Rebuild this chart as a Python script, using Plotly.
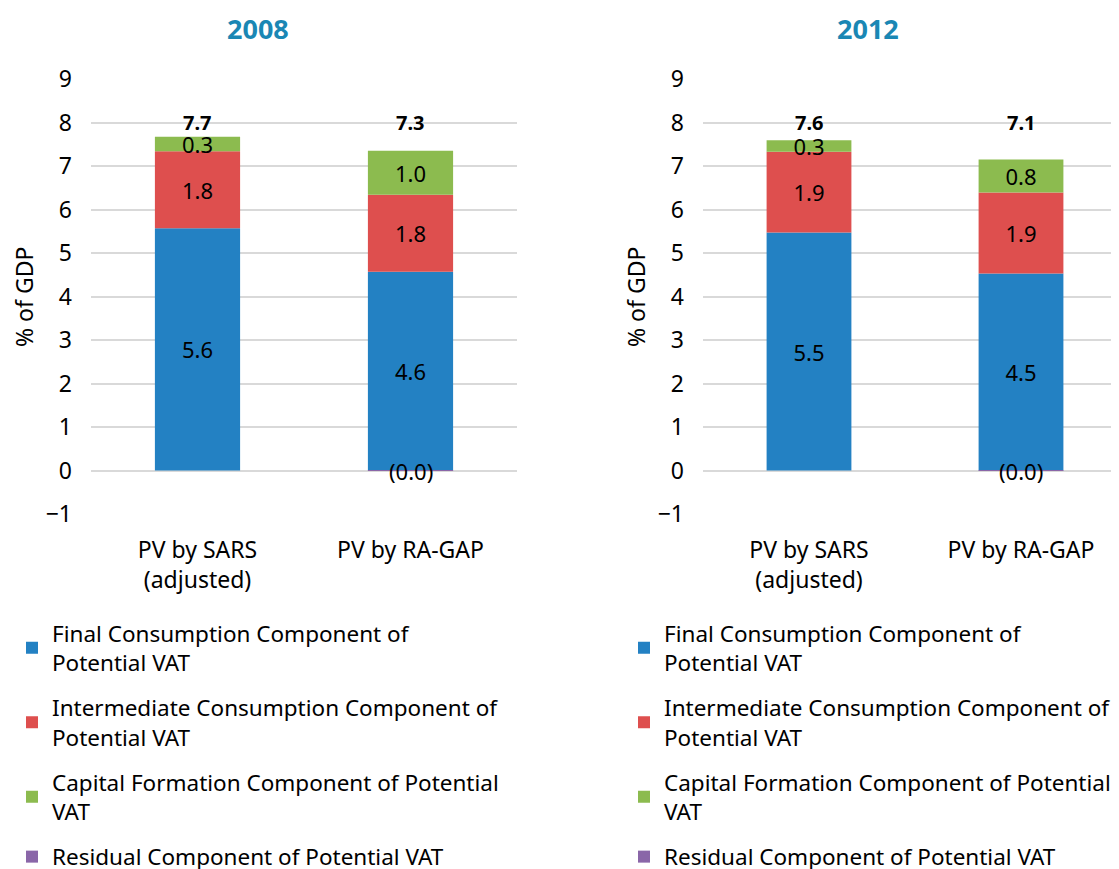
import plotly.graph_objects as go

# Veriler
categories = ["PV by SARS<br>(adjusted)", "PV by RA-GAP"]
years = ["2008", "2012"]

final_2008 = [5.57, 4.57]
inter_2008 = [1.77, 1.77]
capital_2008 = [0.33, 1.01]
resid_2008 = [0.0, -0.004]

final_2012 = [5.47, 4.53]
inter_2012 = [1.86, 1.86]
capital_2012 = [0.26, 0.76]
resid_2012 = [0.0, -0.004]

series_names = [
    "Final Consumption Component of<br>Potential VAT",
    "Intermediate Consumption Component of<br>Potential VAT",
    "Capital Formation Component of Potential<br>VAT",
    "Residual Component of Potential VAT",
]
colors = ["#2381C3", "#DE4F4E", "#8CBB4F", "#8A66A8"]

FONT = "Noto Sans"
W, H, OFF = 1119, 869, 8  # sayfa kenar boşluğu (body margin)


def px_x(p):
    return (p - OFF) / W


def px_y(p):
    return 1 - (p - OFF) / H


panels = [
    ([final_2008, inter_2008, capital_2008, resid_2008], "x", "y", "legend"),
    ([final_2012, inter_2012, capital_2012, resid_2012], "x2", "y2", "legend2"),
]

fig = go.Figure()
annotations = []

for p, (series, xa, ya, leg) in enumerate(panels):
    for i, vals in enumerate(series):
        is_resid = i == 3
        fig.add_trace(go.Bar(
            x=categories, y=vals, name=series_names[i],
            marker=dict(color=colors[i], line=dict(width=0)),
            text=None if is_resid else [f"{v:.1f}" for v in vals],
            textposition="inside", insidetextanchor="middle",
            constraintext="none", textangle=0,
            textfont=dict(color="black", size=22, family=FONT),
            xaxis=xa, yaxis=ya, legend=leg,
            legendgroup=f"g{p}{i}", hoverinfo="skip",
        ))
    # toplamlar
    totals = [sum(s[k] for s in series) for k in range(len(categories))]
    for k, cat in enumerate(categories):
        annotations.append(dict(
            x=cat, y=8, xref=xa, yref=ya, text=f"<b>{totals[k]:.1f}</b>",
            showarrow=False, yanchor="middle",
            font=dict(size=20, color="black", family=FONT),
        ))
        r = series[3][k]
        if r != 0:
            annotations.append(dict(
                x=cat, y=r, xref=xa, yref=ya,
                text=f"({abs(r):.1f})" if r < 0 else f"{r:.1f}",
                showarrow=False, yanchor="middle",
                font=dict(size=22, color="black", family=FONT),
            ))

# başlıklar ve eksen başlıkları
for txt, xp in zip(years, [258, 868]):
    annotations.append(dict(
        x=px_x(xp), y=px_y(29), xref="paper", yref="paper", text=f"<b>{txt}</b>",
        showarrow=False, xanchor="center", yanchor="middle",
        font=dict(size=27, color="#1A87B4", family=FONT),
    ))
for xp in [24, 636]:
    annotations.append(dict(
        x=px_x(xp), y=px_y(297), xref="paper", yref="paper", text="% of GDP",
        textangle=-90, showarrow=False, xanchor="center", yanchor="middle",
        font=dict(size=23, color="black", family=FONT),
    ))

ydom = [px_y(514), px_y(79)]
yaxis_style = dict(
    range=[-1, 9], dtick=1, domain=ydom, showgrid=True, gridcolor="#D9D9D9",
    gridwidth=2, zeroline=True, zerolinecolor="#D9D9D9", zerolinewidth=2,
    showline=False, ticks="", ticklabelstandoff=18, automargin=False,
    tickfont=dict(size=23, color="black", family=FONT),
)
xaxis_style = dict(
    showline=False, ticks="", showgrid=False, ticklabelstandoff=20,
    automargin=False, tickfont=dict(size=23, color="black", family=FONT),
)
legend_style = dict(
    orientation="v", yanchor="top", xanchor="left", bgcolor="rgba(0,0,0,0)",
    font=dict(size=22.5, color="black", family=FONT), tracegroupgap=13,
    itemwidth=30, traceorder="grouped",
)

fig.update_layout(
    width=W, height=H, barmode="relative", bargap=0.6,
    plot_bgcolor="white", paper_bgcolor="white",
    margin=dict(l=0, r=0, t=0, b=0, autoexpand=False),
    font=dict(family=FONT, color="black"),
    xaxis=dict(domain=[px_x(91), px_x(517)], anchor="y", **xaxis_style),
    xaxis2=dict(domain=[px_x(703), 1.0], anchor="y2", **xaxis_style),
    yaxis=dict(anchor="x", **yaxis_style),
    yaxis2=dict(anchor="x2", **yaxis_style),
    legend=dict(x=px_x(12), y=px_y(612), **legend_style),
    legend2=dict(x=px_x(624), y=px_y(612), **legend_style),
    annotations=annotations,
    showlegend=True,
)

fig.write_html("out.html")
